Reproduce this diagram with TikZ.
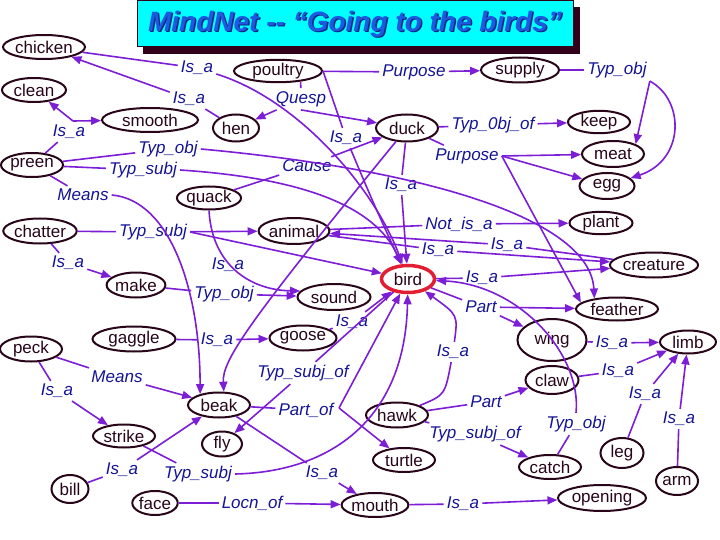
\documentclass[tikz,border=0pt]{standalone}
\usepackage{fontspec}
\setmainfont{Liberation Sans}
\usetikzlibrary{shapes.geometric,arrows.meta}
\definecolor{edgec}{RGB}{125,30,215}
\definecolor{lblc}{RGB}{20,20,150}
\definecolor{nodec}{RGB}{40,5,25}
\definecolor{birdred}{RGB}{225,30,50}
\definecolor{titlecyan}{RGB}{0,255,255}
\definecolor{titleblue}{RGB}{30,90,225}
\definecolor{titleshade}{RGB}{10,40,130}
\definecolor{shadowc}{RGB}{50,0,25}
\begin{document}
\begin{tikzpicture}[x=1pt,y=-1pt,
  cn/.style={ellipse, draw=nodec, line width=2pt, inner sep=0pt, text=nodec, font=\fontsize{17}{20}\selectfont},
  lb/.style={text=lblc, font=\fontsize{17}{20}\selectfont\itshape, inner sep=3pt},
  ed/.style={draw=edgec, line width=1.6pt},
  ar/.style={ed, -{Triangle[length=10pt,width=8pt]}},
]
\fill[white] (0,0) rectangle (720,540);
\useasboundingbox (0,0) rectangle (720,540);
% title
\fill[shadowc] (143,7) rectangle (580,54);
\node[draw=shadowc, line width=0.8pt, fill=titlecyan, minimum width=436, minimum height=46, anchor=north west, inner sep=0pt] (title) at (137,0) {};
\node[text=titleshade, font=\fontsize{28}{32}\selectfont\bfseries\itshape] (titleshadow) at (356.5,25.5) {MindNet {-}{-} “Going to the birds”};
\node[text=titleblue, font=\fontsize{28}{32}\selectfont\bfseries\itshape] (titletext) at (355,24) {MindNet {-}{-} “Going to the birds”};
% concept nodes
\node[cn,minimum width=82,minimum height=24] (chicken) at (44,47) {chicken};
\node[cn,minimum width=64,minimum height=24] (clean) at (34,90) {clean};
\node[cn,minimum width=96,minimum height=24] (smooth) at (150,120) {smooth};
\node[cn,minimum width=46,minimum height=27] (hen) at (236,128) {hen};
\node[cn,minimum width=88,minimum height=22] (poultry) at (278,71) {poultry};
\node[cn,minimum width=62,minimum height=24] (preen) at (32,165) {preen};
\node[cn,minimum width=78,minimum height=25] (supply) at (520,70) {supply};
\node[cn,minimum width=62,minimum height=27] (duck) at (407,128) {duck};
\node[cn,minimum width=62,minimum height=22] (keep) at (599,122) {keep};
\node[cn,minimum width=62,minimum height=26] (meat) at (613,154) {meat};
\node[cn,minimum width=55,minimum height=26] (egg) at (607,186) {egg};
\node[cn,minimum width=63,minimum height=22] (plant) at (601,223) {plant};
\node[cn,minimum width=85,minimum height=25] (creature) at (654,265) {creature};
\node[cn,minimum width=82,minimum height=23] (feather) at (617,309) {feather};
\node[cn,minimum width=69,minimum height=42] (wing) at (552,340) {wing};
\node[cn,minimum width=56,minimum height=23] (limb) at (688,342) {limb};
\node[cn,minimum width=53,minimum height=28] (claw) at (552,380) {claw};
\node[cn,minimum width=62,minimum height=25] (hawk) at (397,415) {hawk};
\node[cn,minimum width=62,minimum height=24] (turtle) at (404,460) {turtle};
\node[cn,minimum width=62,minimum height=24] (catch) at (550,467) {catch};
\node[cn,minimum width=43,minimum height=30] (leg) at (622,453) {leg};
\node[cn,minimum width=42,minimum height=28] (arm) at (677,481) {arm};
\node[cn,minimum width=88,minimum height=26] (opening) at (602,498) {opening};
\node[cn,minimum width=65,minimum height=24] (mouth) at (375,505) {mouth};
\node[cn,minimum width=45,minimum height=24] (face) at (155,503) {face};
\node[cn,minimum width=37,minimum height=28] (bill) at (70,489) {bill};
\node[cn,minimum width=62,minimum height=23] (strike) at (124,436) {strike};
\node[cn,minimum width=62,minimum height=25] (beak) at (219,405) {beak};
\node[cn,minimum width=40,minimum height=25] (fly) at (222,444) {fly};
\node[cn,minimum width=62,minimum height=25] (peck) at (31,349) {peck};
\node[cn,minimum width=83,minimum height=25] (gaggle) at (134,339) {gaggle};
\node[cn,minimum width=67,minimum height=25] (goose) at (303,338) {goose};
\node[cn,minimum width=58,minimum height=25] (make) at (136,285) {make};
\node[cn,minimum width=71,minimum height=25] (chatter) at (40,231) {chatter};
\node[cn,minimum width=62,minimum height=23] (quack) at (209,198) {quack};
\node[cn,minimum width=68,minimum height=26] (animal) at (294,231) {animal};
\node[cn,minimum width=73,minimum height=26] (sound) at (334,297) {sound};
\node[cn,draw=birdred,line width=3.5pt,minimum width=53,minimum height=27] (bird) at (408,279) {bird};
% relation labels
\node[lb] (isa1) at (197,68) {Is\_a};
\node[lb] (isa2) at (189,99) {Is\_a};
\node[lb] (quesp) at (301,99) {Quesp};
\node[lb] (purp1) at (414,72) {Purpose};
\node[lb] (typobj1) at (617,70) {Typ\_obj};
\node[lb] (isa3) at (69,132) {Is\_a};
\node[lb] (typobj2) at (168,149) {Typ\_obj};
\node[lb] (typsubj1) at (143,170) {Typ\_subj};
\node[lb] (cause) at (307,166) {Cause};
\node[lb] (isa4) at (346,138) {Is\_a};
\node[lb] (typ0bj) at (493,125) {Typ\_0bj\_of};
\node[lb] (purp2) at (467,156) {Purpose};
\node[lb] (isa12) at (401,185) {Is\_a};
\node[lb] (means1) at (83,195) {Means};
\node[lb] (typsubj2) at (153,232) {Typ\_subj};
\node[lb] (notisa) at (459,224) {Not\_is\_a};
\node[lb] (isa9) at (438,250) {Is\_a};
\node[lb] (isa10) at (507,245) {Is\_a};
\node[lb] (isa11) at (482,278) {Is\_a};
\node[lb] (part1) at (481,307) {Part};
\node[lb] (isa6) at (68,263) {Is\_a};
\node[lb] (isa5) at (228,265) {Is\_a};
\node[lb] (typobj3) at (224,294) {Typ\_obj};
\node[lb] (isa8) at (352,322) {Is\_a};
\node[lb] (isa7) at (217,340) {Is\_a};
\node[lb] (isa17) at (453,352) {Is\_a};
\node[lb] (typsubjof1) at (303,373) {Typ\_subj\_of};
\node[lb] (means2) at (117,377) {Means};
\node[lb] (isa13) at (57,391) {Is\_a};
\node[lb] (partof) at (306,410) {Part\_of};
\node[lb] (isa14) at (122,470) {Is\_a};
\node[lb] (typsubj3) at (198,474) {Typ\_subj};
\node[lb] (isa15) at (322,473) {Is\_a};
\node[lb] (locnof) at (252,503) {Locn\_of};
\node[lb] (isa16) at (463,504) {Is\_a};
\node[lb] (part2) at (486,402) {Part};
\node[lb] (typsubjof2) at (475,434) {Typ\_subj\_of};
\node[lb] (typobj4) at (576,424) {Typ\_obj};
\node[lb] (isa18) at (612,343) {Is\_a};
\node[lb] (isa19) at (618,371) {Is\_a};
\node[lb] (isa20) at (645,394) {Is\_a};
\node[lb] (isa21) at (679,419) {Is\_a};
\coordinate (j3) at (73,121);
\coordinate (jp) at (339,408);
% connectors
\draw[ed] (chicken) -- (isa1);
\draw[ar] (isa1) .. controls (300,100) and (375,190) .. (bird);
\draw[ed] (hen) -- (isa2);
\draw[ar] (isa2) -- (chicken);
\draw[ed] (preen) -- (isa3);
\draw[ar] (j3) -- (clean);
\draw[ar] (j3) -- (smooth);
\draw[ed] (quesp) -- (poultry.-25);
\draw[ar] (quesp) -- (hen);
\draw[ar] (quesp.south) -- (duck);
\draw[ed] (poultry) -- (purp1);
\draw[ar] (purp1) -- (supply);
\draw[ed] (poultry.east) -- (isa4);
\draw[ar] (isa4) .. controls (372,200) .. (bird);
\draw[ed] (supply) -- (typobj1);
\draw[ar] (typobj1.south east) -- (meat.north east);
\draw[ar] (typobj1.south east) .. controls (685,100) and (685,160) .. (egg);
\draw[ed] (duck) -- (typ0bj);
\draw[ar] (typ0bj) -- (keep);
\draw[ed] (duck) -- (purp2);
\draw[ar] (purp2.east) -- (meat);
\draw[ar] (purp2.east) -- (egg);
\draw[ar] (purp2.east) -- (feather.170);
\draw[ed] (preen) -- (typobj2);
\draw[ar] (typobj2.east) .. controls (430,170) and (590,220) .. (feather.155);
\draw[ed] (preen) -- (typsubj1);
\draw[ar] (typsubj1.east) .. controls (300,178) and (375,205) .. (bird);
\draw[ed] (quack) -- (cause);
\draw[ar] (cause) -- (duck);
\draw[ar] (quack.south) .. controls (212,265) and (250,290) .. (sound.170);
\draw[ed] (chatter) -- (typsubj2);
\draw[ar] (typsubj2) -- (animal);
\draw[ar] (typsubj2.east) -- (bird);
\draw[ed] (chatter) -- (isa6);
\draw[ar] (isa6) -- (make);
\draw[ed] (make) -- (typobj3);
\draw[ar] (typobj3) -- (sound);
\draw[ed] (gaggle) -- (isa7);
\draw[ar] (isa7) -- (goose);
\draw[ed] (goose) -- (isa8);
\draw[ar] (isa8) -- (bird);
\draw[ed] (animal) -- (notisa);
\draw[ar] (notisa) -- (plant);
\draw[ed] (animal) -- (isa9);
\draw[ar] (isa9) -- (creature);
\draw[ed] (creature) -- (isa10);
\draw[ar] (isa10) -- (animal);
\draw[ed] (bird) -- (isa11);
\draw[ar] (isa11) -- (creature);
\draw[ed] (bird) -- (part1);
\draw[ar] (part1) -- (feather);
\draw[ar] (part1) -- (wing);
\draw[ed] (catch) -- (typobj4);
\draw[ar] (typobj4.north) .. controls (582,355) and (520,285) .. (bird);
\draw[ed] (duck) -- (isa12);
\draw[ar] (isa12) -- (bird);
\draw[ar] (duck) .. controls (250,320) and (222,360) .. (beak.70);
\draw[ed] (preen) -- (means1);
\draw[ar] (means1.east) .. controls (170,200) and (200,290) .. (beak.150);
\draw[ed] (peck) -- (means2);
\draw[ar] (means2) -- (beak);
\draw[ed] (peck) -- (isa13);
\draw[ar] (isa13) -- (strike);
\draw[ed] (strike) -- (typsubj3);
\draw[ar] (typsubj3.east) .. controls (330,472) and (405,420) .. (bird);
\draw[ed] (bill) -- (isa14);
\draw[ar] (isa14) -- (beak);
\draw[ed] (beak) -- (partof);
\draw[ar] (jp) -- (bird);
\draw[ar] (jp) -- (turtle);
\draw[ed] (beak) -- (isa15);
\draw[ar] (isa15) -- (mouth);
\draw[ed] (bird) -- (typsubjof1);
\draw[ar] (typsubjof1) -- (fly);
\draw[ed] (face) -- (locnof);
\draw[ar] (locnof) -- (mouth);
\draw[ed] (mouth) -- (isa16);
\draw[ar] (isa16) -- (opening);
\draw[ed] (hawk) -- (part2);
\draw[ar] (part2) -- (claw);
\draw[ed] (hawk) -- (typsubjof2);
\draw[ar] (typsubjof2) -- (catch);
\draw[ed] (hawk) .. controls (445,395) .. (isa17);
\draw[ar] (isa17) .. controls (458,315) .. (bird);
\draw[ed] (wing) -- (isa18);
\draw[ar] (isa18) -- (limb);
\draw[ed] (claw) -- (isa19);
\draw[ar] (isa19) -- (limb);
\draw[ed] (leg) -- (isa20);
\draw[ar] (isa20) -- (limb);
\draw[ed] (arm) -- (isa21);
\draw[ar] (isa21) -- (limb);
\end{tikzpicture}
\end{document}
